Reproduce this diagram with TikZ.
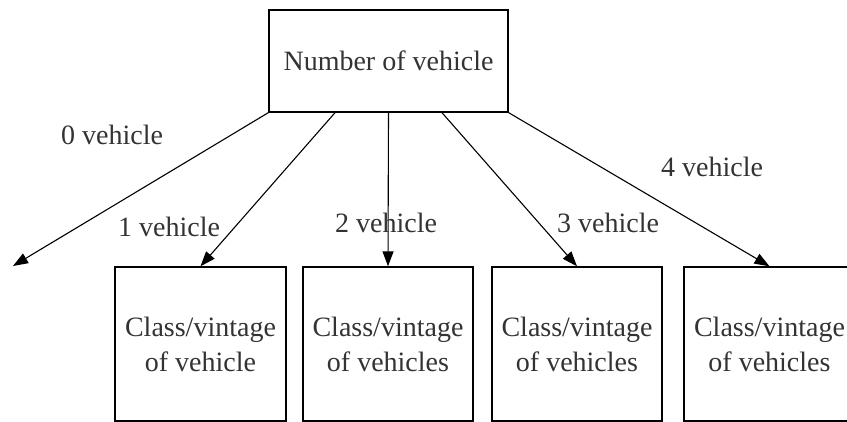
\documentclass[tikz,border=0pt]{standalone}
\usepackage{fontspec}
\setmainfont{Liberation Serif}
\usetikzlibrary{arrows.meta}
\begin{document}
\begin{tikzpicture}[x=1pt,y=-1pt,
  box/.style={draw, line width=1.4pt, inner sep=0pt, align=center, font=\fontsize{28}{35}\selectfont, text=black!80},
  lbl/.style={anchor=base west, inner sep=0pt, font=\fontsize{28}{35}\selectfont, text=black!80},
  conn/.style={line width=1.1pt, -{Triangle[length=15pt,width=11pt]}}]
\useasboundingbox (0,0) rectangle (847,422);
\node[box, minimum width=239pt, minimum height=102pt] (top) at (388.5,61) {Number of vehicle};
\node[box, minimum width=171pt, minimum height=154pt] (b1) at (200.5,344) {Class/vintage\\of vehicle};
\node[box, minimum width=170pt, minimum height=154pt] (b2) at (388,344) {Class/vintage\\of vehicles};
\node[box, minimum width=170pt, minimum height=154pt] (b3) at (577,344) {Class/vintage\\of vehicles};
\node[box, minimum width=171pt, minimum height=154pt] (b4) at (769.5,344) {Class/vintage\\of vehicles};
\coordinate (z) at (13,266);
\draw[conn] (top.south west) -- (z);
\draw[conn] ([xshift=-53.5pt]top.south) -- (b1.north);
\draw[conn] (top.south) -- (b2.north);
\draw[conn] ([xshift=53.5pt]top.south) -- (b3.north);
\draw[conn] (top.south east) -- (b4.north);
\node[lbl] (l0) at (61,145) {0 vehicle};
\node[lbl] (l1) at (118,237) {1 vehicle};
\node[lbl] (l2) at (335,233) {2 vehicle};
\node[lbl] (l3) at (557,233) {3 vehicle};
\node[lbl] (l4) at (661,177) {4 vehicle};
\end{tikzpicture}
\end{document}
